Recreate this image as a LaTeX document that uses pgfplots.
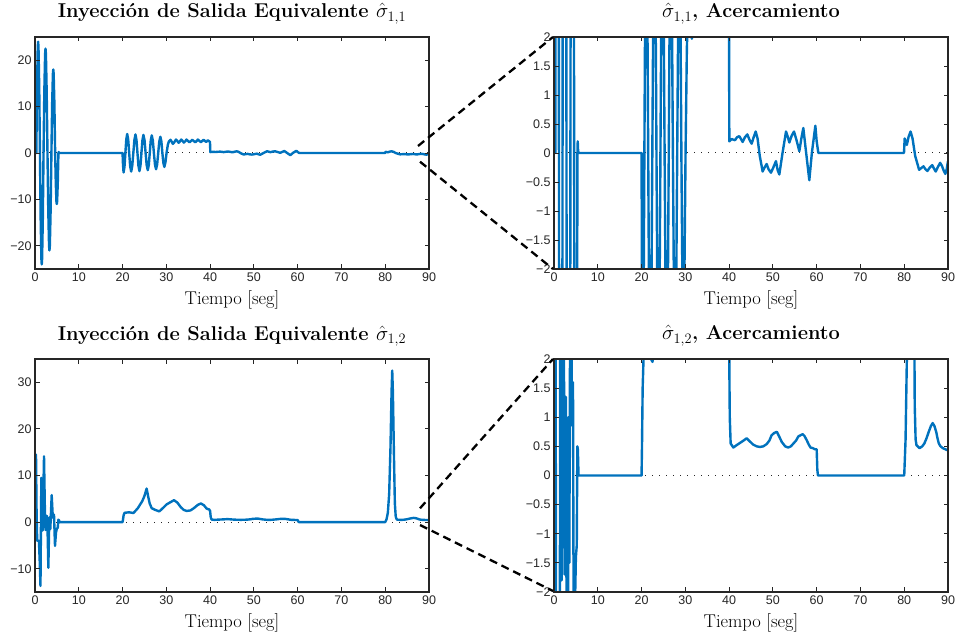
\documentclass[border=0pt]{standalone}
\usepackage{fontspec}
\usepackage{pgfplots}
\pgfplotsset{compat=1.18}
\usepackage{pgfplotstable}

\newfontfamily\ticksans{Liberation Sans}
\definecolor{mblue}{RGB}{0,114,189}
\definecolor{axgray}{RGB}{38,38,38}

% sigma_hat_{1,1}: equivalent output injection, first component
\pgfplotstableread{
t v
0 0
0.30 0
0.466 14.1
0.632 22.8
0.715 24
0.798 22.8
0.964 14.1
1.13 0
1.294 -14.1
1.458 -22.8
1.54 -24
1.622 -22.8
1.786 -14.1
1.95 0
2.13 13.2
2.31 21.4
2.40 22.5
2.49 21.4
2.67 13.2
2.85 0
3.03 -12.3
3.21 -20.0
3.30 -21
3.39 -20.0
3.57 -12.3
3.75 0
3.92 10.6
4.09 17.1
4.175 18
4.26 17.1
4.43 10.6
4.60 0
4.75 -6.5
4.90 -10.5
4.975 -11
5.05 -10.5
5.20 -6.5
5.35 0
5.42 0.2
5.50 0.05
5.60 0
20.0 0
20.1 -2.5
20.23 -4.2
20.44 -3.0
20.645 0
20.85 2.9
21.06 4.1
21.29 2.9
21.515 0
21.74 -2.85
21.97 -4.0
22.215 -2.8
22.46 0
22.705 2.8
22.95 4.0
23.18 2.8
23.405 0
23.63 -2.75
23.86 -3.9
24.09 -2.75
24.315 0
24.54 2.75
24.77 3.9
25.02 2.75
25.265 0
25.51 -2.6
25.76 -3.7
25.99 -2.6
26.215 0
26.44 2.7
26.67 3.8
26.915 2.7
27.16 0
27.405 -2.5
27.65 -3.5
27.9 -2.5
28.145 0
28.39 2.5
28.64 3.5
28.87 2.5
29.095 0
29.32 -2.1
29.55 -3.0
29.8 -2.0
30.05 0
30.35 1.8
30.6 2.5
30.95 2.85
31.25 2.4
31.5 1.97
31.8 2.3
32.2 2.9
32.5 2.6
32.8 2.2
33.1 2.5
33.4 2.9
33.7 2.6
34.0 2.25
34.3 2.5
34.6 2.9
34.95 2.6
35.3 2.3
35.6 2.55
35.9 2.85
36.25 2.6
36.6 2.3
36.9 2.55
37.2 2.9
37.55 2.6
37.9 2.35
38.2 2.6
38.5 2.85
38.8 2.6
39.1 2.4
39.3 2.55
39.5 2.75
39.75 2.55
39.97 2.4
40.05 0.2
40.58 0.24
41.34 0.22
41.8 0.27
42.33 0.29
43.1 0.19
43.6 0.27
44.16 0.32
44.7 0.22
45.15 0.16
45.6 0.27
46.07 0.37
46.5 0.25
47.0 -0.05
47.66 -0.32
48.1 -0.25
48.57 -0.19
49.0 -0.28
49.56 -0.34
50.1 -0.25
50.7 -0.14
51.1 -0.3
51.47 -0.37
52.2 0.0
53.0 0.37
53.4 0.28
53.76 0.18
54.3 0.3
54.82 0.37
55.4 0.22
56.04 0.03
56.5 0.25
56.95 0.43
57.6 0.0
58.32 -0.47
58.9 0.0
59.7 0.47
60.0 0.2
60.38 0.0
79.95 0
80.1 0.25
80.35 0.2
80.6 0.14
81.0 0.28
81.45 0.37
81.9 0.25
82.5 -0.05
83.4 -0.29
83.9 -0.26
84.4 -0.23
84.85 -0.28
85.3 -0.31
85.85 -0.25
86.4 -0.21
86.8 -0.27
87.2 -0.32
87.7 -0.24
88.2 -0.17
88.6 -0.22
89.0 -0.3
89.4 -0.36
89.7 -0.28
90 -0.14
}\sigmaA

% sigma_hat_{1,2}: equivalent output injection, second component
\pgfplotstableread{
t v
0 0
0.1 8
0.23 14.5
0.35 3
0.5 -4
0.9 -4
1.1 -9
1.25 -13.7
1.45 9.5
1.6 2
1.75 -1.8
2.06 14.1
2.25 3
2.4 -1.7
2.7 1.35
2.9 -3
3.05 -9.8
3.27 1.0
3.5 -1.5
3.81 5.8
4.04 1.5
4.2 0.85
4.34 1.6
4.57 -5.1
4.8 -2.2
5.0 -1.4
5.2 -1.2
5.33 0.5
5.45 0.45
5.6 0
20.0 0
20.1 0.5
20.25 1.5
20.45 2.0
21.5 2.1
22.5 1.95
23.5 3.0
24.5 4.5
25.0 5.6
25.5 7.2
25.85 5.5
26.2 4.0
26.65 3.0
27.5 2.6
28.4 2.3
29.2 3.0
30.07 3.8
30.8 4.2
31.75 4.7
32.5 4.2
33.3 3.2
34.0 2.6
34.65 2.4
35.5 2.5
36.3 3.0
37.2 3.7
37.9 4.0
38.6 3.6
39.2 2.9
39.8 2.7
40.0 2.4
40.08 1.6
40.15 1.0
40.35 0.55
40.96 0.48
41.7 0.52
42.5 0.56
43.3 0.6
44.0 0.64
44.8 0.58
45.5 0.53
46.3 0.5
47.0 0.49
47.8 0.5
48.6 0.54
49.2 0.6
49.7 0.69
50.3 0.73
50.9 0.75
51.5 0.66
52.0 0.58
52.8 0.5
53.5 0.48
54.1 0.5
54.7 0.55
55.3 0.6
55.8 0.67
56.8 0.71
57.2 0.68
57.7 0.61
58.2 0.53
58.6 0.48
59.1 0.47
59.6 0.45
60.0 0.45
60.15 0.1
60.3 0
80.0 0
80.3 0.6
80.6 2.0
80.9 6
81.2 16
81.45 28
81.6 32.5
81.75 28
82.0 14
82.2 4
82.4 1.2
82.6 0.62
82.8 0.52
83.5 0.47
84.1 0.5
84.6 0.55
85.1 0.64
85.6 0.75
86.1 0.85
86.5 0.9
86.9 0.85
87.3 0.75
87.6 0.64
87.9 0.55
88.3 0.5
88.8 0.47
89.4 0.45
90 0.43
}\sigmaB

\pgfplotsset{
  panel/.style={
    scale only axis, width=394pt, anchor=south west,
    xmin=0, xmax=90,
    xtick={0,10,20,30,40,50,60,70,80,90},
    xticklabels={0,10,20,30,40,50,60,70,80,90},
    axis on top,
    axis line style={axgray, line width=1.1pt},
    every tick/.style={axgray, line width=0.9pt},
    major tick length=4.5pt,
    tick align=inside,
    tick pos=both,
    ticklabel pos=left,
    tick label style={font=\ticksans\fontsize{12.5}{14}\selectfont, text=axgray},
    xlabel={Tiempo [seg]},
    xlabel style={at={(axis description cs:0.5,0)}, anchor=base, yshift=-36pt,
      font=\fontsize{18.5}{22}\selectfont},
    title style={at={(axis description cs:0.5,1)}, anchor=base, yshift=13pt,
      font=\bfseries\fontsize{20}{24}\selectfont},
  },
  zoompanel/.style={
    panel, ymin=-2, ymax=2,
    ytick={-2,-1.5,-1,-0.5,0,0.5,1,1.5,2},
    yticklabels={−2,−1.5,−1,−0.5,0,0.5,1,1.5,2},
  },
  sig/.style={mblue, line width=2.4pt, line join=round, no markers},
  zeroline/.style={axgray, line width=1pt, dash pattern=on 1pt off 6pt, no markers},
}

\begin{document}
\begin{tikzpicture}
\useasboundingbox (0pt,0pt) rectangle (956pt,637pt);

% top left: full range
\begin{axis}[panel, at={(35pt,368pt)}, height=232pt,
  ymin=-25, ymax=25,
  ytick={-20,-10,0,10,20}, yticklabels={−20,−10,0,10,20},
  title={Inyección de Salida Equivalente $\hat{\sigma}_{1,1}$}]
  \addplot[zeroline] coordinates {(0,0) (90,0)};
  \addplot[sig] table[x=t, y=v] {\sigmaA};
\end{axis}

% top right: zoom on [-2, 2]
\begin{axis}[zoompanel, at={(554pt,368pt)}, height=232pt,
  title={$\hat{\sigma}_{1,1}$, Acercamiento}]
  \addplot[zeroline] coordinates {(0,0) (90,0)};
  \addplot[sig] table[x=t, y=v] {\sigmaA};
\end{axis}

% bottom left: full range
\begin{axis}[panel, at={(35pt,45pt)}, height=233pt,
  ymin=-15, ymax=35,
  ytick={-10,0,10,20,30}, yticklabels={−10,0,10,20,30},
  title={Inyección de Salida Equivalente $\hat{\sigma}_{1,2}$}]
  \addplot[zeroline] coordinates {(0,0) (90,0)};
  \addplot[sig] table[x=t, y=v] {\sigmaB};
\end{axis}

% bottom right: zoom on [-2, 2]
\begin{axis}[zoompanel, at={(554pt,45pt)}, height=233pt,
  title={$\hat{\sigma}_{1,2}$, Acercamiento}]
  \addplot[zeroline] coordinates {(0,0) (90,0)};
  \addplot[sig] table[x=t, y=v] {\sigmaB};
\end{axis}

% zoom guide lines
\begin{scope}[black, line width=2.3pt, dash pattern=on 8pt off 5pt]
  \draw (418pt,491pt) -- (553pt,600pt);
  \draw (420pt,475.3pt) -- (553pt,368pt);
  \draw (420pt,128.7pt) -- (553pt,278pt);
  \draw (420pt,112pt) -- (553pt,46pt);
\end{scope}
\end{tikzpicture}
\end{document}
